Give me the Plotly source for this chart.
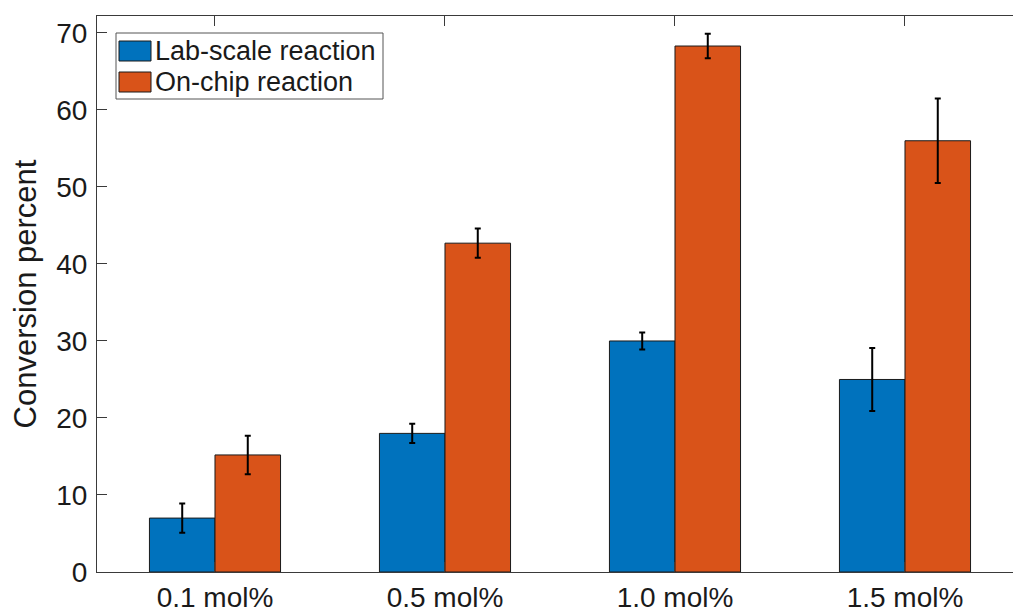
import plotly.graph_objects as go

categories = ["0.1 mol%", "0.5 mol%", "1.0 mol%", "1.5 mol%"]
lab_values = [7.0, 18.0, 30.0, 25.0]
lab_errors = [1.9, 1.25, 1.1, 4.1]
chip_values = [15.2, 42.7, 68.3, 56.0]
chip_errors = [2.5, 1.9, 1.6, 5.5]
series_names = ["Lab-scale reaction", "On-chip reaction"]
series_colors = ["#0072BD", "#D95319"]
y_ticks = [0, 10, 20, 30, 40, 50, 60, 70]

FONT = "Liberation Sans, Arial, Helvetica, sans-serif"
TEXT = "#1a1a1a"
AX = "#3a3a3a"

fig = go.Figure()
for name, vals, errs, col in zip(series_names, [lab_values, chip_values],
                                 [lab_errors, chip_errors], series_colors):
    fig.add_trace(go.Bar(
        x=categories, y=vals, name=name,
        marker=dict(color=col, line=dict(color="#1a1a1a", width=1)),
        error_y=dict(type="data", array=errs, visible=True,
                     color="black", thickness=2, width=3),
        showlegend=False, hoverinfo="skip",
    ))

# The MATLAB axes box extends past the right edge of the picture,
# so the figure is wider than the window (overflow is hidden).
W, H = 1060, 612
ml, mr, mt, mb = 97, 0, 16, 40
pw, ph = W - ml - mr, H - mt - mb

def px(x):
    return (x - ml) / pw

def py(y):
    return 1 - (y - mt) / ph

# Legend drawn as swatches + text (MATLAB-style boxed legend)
leg_x0, leg_x1 = 116, 383
leg_y0, leg_y1 = 33, 99
shapes = [dict(type="rect", xref="paper", yref="paper",
               x0=px(leg_x0), x1=px(leg_x1), y0=py(leg_y1), y1=py(leg_y0),
               line=dict(color="#555555", width=1), fillcolor="white", layer="above")]
annotations = []
row_centers = [51, 82]
for name, col, yc in zip(series_names, series_colors, row_centers):
    shapes.append(dict(type="rect", xref="paper", yref="paper",
                       x0=px(119), x1=px(151), y0=py(yc + 10), y1=py(yc - 10),
                       line=dict(color="#1a1a1a", width=1), fillcolor=col, layer="above"))
    annotations.append(dict(xref="paper", yref="paper", x=px(153), y=py(yc),
                            text=name, showarrow=False, xanchor="left", yanchor="middle",
                            font=dict(family=FONT, size=27, color=TEXT)))

fig.update_layout(
    width=W, height=H,
    margin=dict(l=ml, r=mr, t=mt, b=mb, pad=0, autoexpand=False),
    paper_bgcolor="white", plot_bgcolor="white",
    barmode="group", bargap=0.43, bargroupgap=0,
    font=dict(family=FONT, size=28, color=TEXT),
    shapes=shapes, annotations=annotations,
    showlegend=False,
)
fig.update_xaxes(
    range=[-0.513, -0.513 + pw / 230.0], showline=True, linecolor=AX, linewidth=1, mirror="ticks",
    ticks="inside", ticklen=10, tickcolor=AX, tickwidth=1,
    showgrid=False, zeroline=False, automargin=False,
    tickfont=dict(family=FONT, size=28, color=TEXT),
)
fig.update_yaxes(
    range=[0, 72.2], tickvals=y_ticks, showline=True, linecolor=AX, linewidth=1,
    ticks="inside", ticklen=10, tickcolor=AX, tickwidth=1,
    showgrid=False, zeroline=False, automargin=False, ticklabelstandoff=3,
    tickfont=dict(family=FONT, size=28, color=TEXT),
    title=dict(text="Conversion percent", font=dict(family=FONT, size=31, color=TEXT), standoff=10),
)

fig.write_html(
    "out.html",
    config={"displayModeBar": False},
    post_script=(
        "document.documentElement.style.overflow='hidden';"
        "document.body.style.margin='0';document.body.style.overflow='hidden';"
    ),
)
